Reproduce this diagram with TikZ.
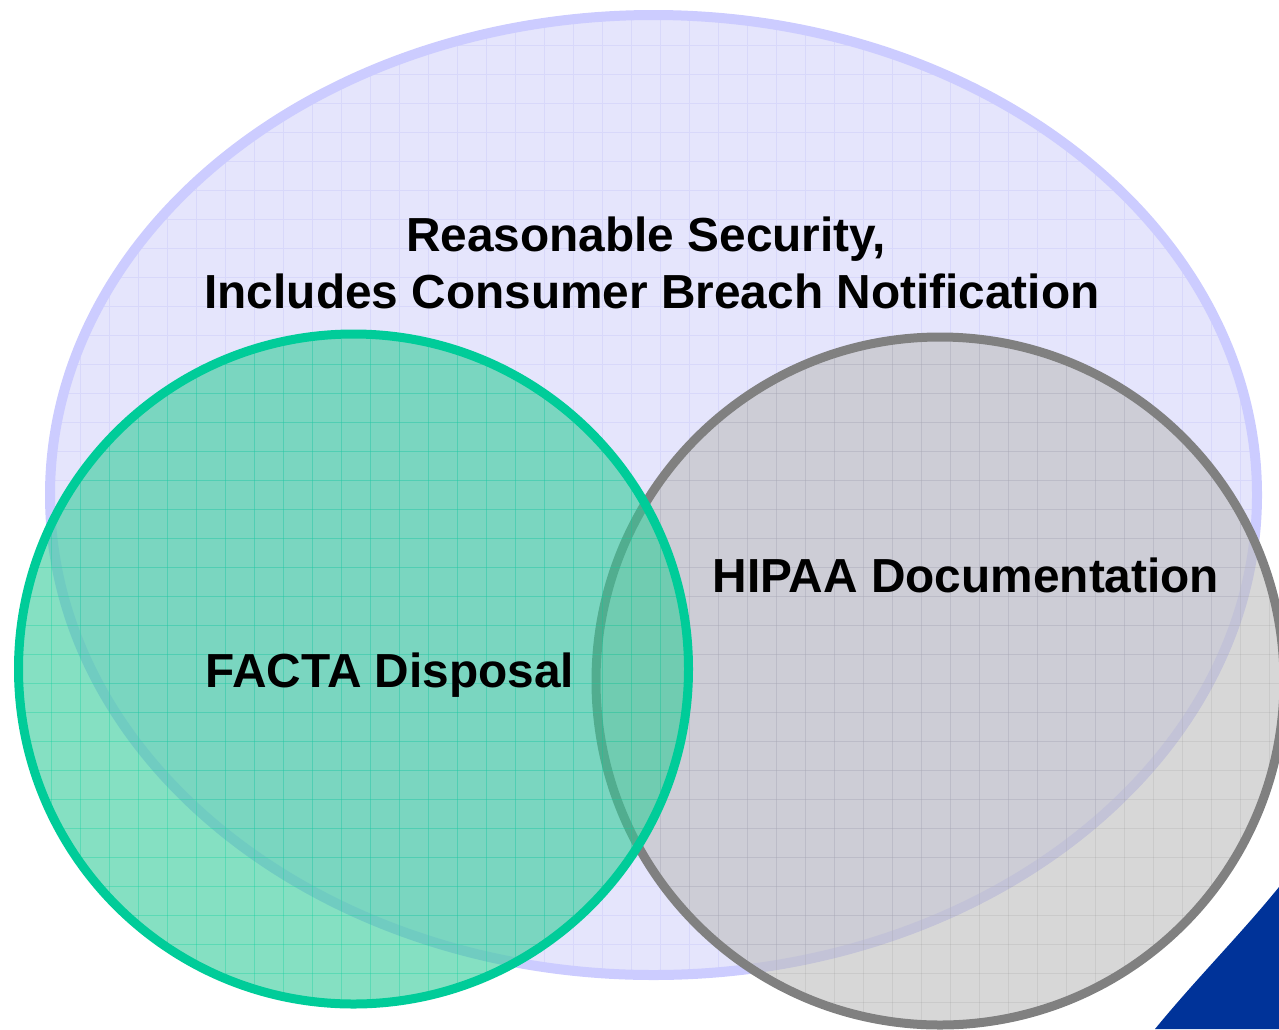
\documentclass[tikz,border=0pt]{standalone}
\usepackage{fontspec}
\setmainfont{Liberation Sans}
\begin{document}
\begin{tikzpicture}[x=1pt,y=-1pt,
  lbl/.style={font=\bfseries\fontsize{47.8}{57}\selectfont, inner sep=0pt, text=black},
  gridline/.style={line width=1pt}]
\definecolor{ellF}{HTML}{E5E5FC}
\definecolor{ellS}{HTML}{CCCCFF}
\definecolor{ellG}{HTML}{D8D8FA}
\definecolor{grnF}{HTML}{33CC99}
\definecolor{grnS}{HTML}{00CC99}
\definecolor{gryF}{HTML}{BDBDBD}
\definecolor{gryS}{HTML}{808080}
\definecolor{cornerblue}{HTML}{003399}
\useasboundingbox (0,0) rectangle (1279,1029);
\clip (0,0) rectangle (1279,1029);
% ellipse
\fill[ellF] (653.5,495) ellipse [x radius=603.5, y radius=480];
\begin{scope}
  \clip (653.5,495) ellipse [x radius=603.5, y radius=480];
  \foreach \x in {22,51,...,1279} \draw[ellG,gridline] (\x,0) -- (\x,1029);
  \foreach \y in {16,45,...,1029} \draw[ellG,gridline] (0,\y) -- (1279,\y);
\end{scope}
\draw[ellS,line width=10pt] (653.5,495) ellipse [x radius=603.5, y radius=480];
% grey circle
\fill[gryF,fill opacity=0.6] (940,681) circle [radius=344];
\begin{scope}
  \clip (940,681) circle [radius=344];
  \foreach \x in {22,51,...,1279} \draw[gryS,gridline,opacity=0.15] (\x,0) -- (\x,1029);
  \foreach \y in {16,45,...,1029} \draw[gryS,gridline,opacity=0.15] (0,\y) -- (1279,\y);
\end{scope}
\draw[gryS,line width=9pt] (940,681) circle [radius=344];
% green circle
\fill[grnF,fill opacity=0.6] (353.5,669) circle [radius=335];
\begin{scope}
  \clip (353.5,669) circle [radius=335];
  \foreach \x in {22,51,...,1279} \draw[grnS,gridline,opacity=0.3] (\x,0) -- (\x,1029);
  \foreach \y in {16,45,...,1029} \draw[grnS,gridline,opacity=0.3] (0,\y) -- (1279,\y);
\end{scope}
\draw[grnS,line width=9pt] (353.5,669) circle [radius=335];
% blue corner
\fill[cornerblue] (1155,1029) .. controls (1195,980) and (1240,935) .. (1279,887) -- (1279,1029) -- cycle;
% labels
\node[lbl,anchor=base] (title1) at (646,251) {Reasonable Security,};
\node[lbl,anchor=base] (title2) at (652,308) {Includes Consumer Breach Notification};
\node[lbl,anchor=base] (hipaa) at (966,592) {HIPAA Documentation};
\node[lbl,anchor=base] (facta) at (390,687) {FACTA Disposal};
\end{tikzpicture}
\end{document}
